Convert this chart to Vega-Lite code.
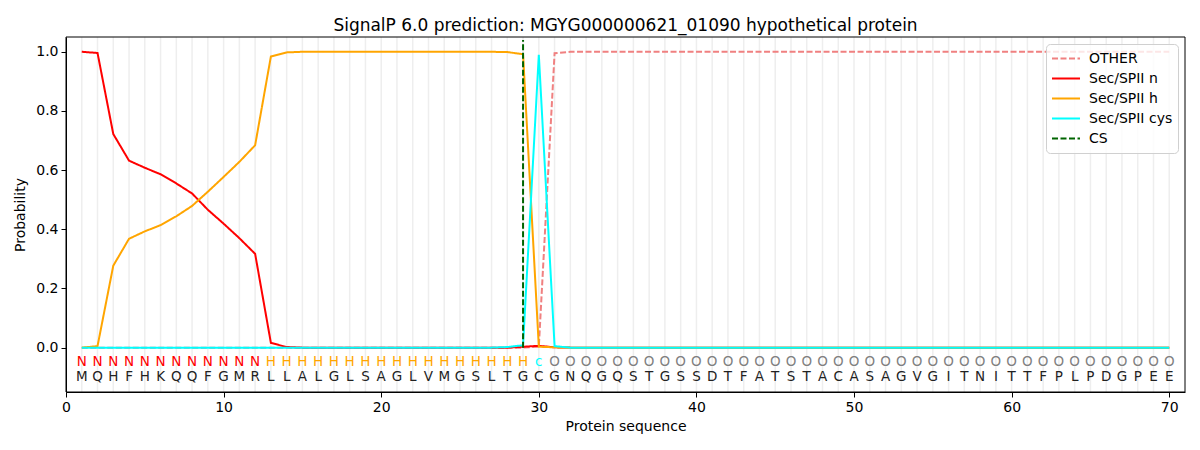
{
  "$schema": "https://vega.github.io/schema/vega-lite/v6.json",
  "autosize": "none",
  "width": 1119,
  "height": 355,
  "padding": {"left": 66, "top": 37, "right": 15, "bottom": 58},
  "background": "white",
  "title": {
    "text": "SignalP 6.0 prediction: MGYG000000621_01090 hypothetical protein",
    "font": "DejaVu Sans",
    "fontSize": 17,
    "fontWeight": "normal",
    "color": "black",
    "offset": 1
  },
  "datasets": {
    "residues": [
      {"pos": 1, "aa": "M", "lab": "N", "OTHER": 0, "Sec/SPII n": 1.0, "Sec/SPII h": 0, "Sec/SPII cys": 0},
      {"pos": 2, "aa": "Q", "lab": "N", "OTHER": 0, "Sec/SPII n": 0.996, "Sec/SPII h": 0.005, "Sec/SPII cys": 0},
      {"pos": 3, "aa": "H", "lab": "N", "OTHER": 0, "Sec/SPII n": 0.722, "Sec/SPII h": 0.277, "Sec/SPII cys": 0},
      {"pos": 4, "aa": "F", "lab": "N", "OTHER": 0, "Sec/SPII n": 0.632, "Sec/SPII h": 0.368, "Sec/SPII cys": 0},
      {"pos": 5, "aa": "H", "lab": "N", "OTHER": 0, "Sec/SPII n": 0.608, "Sec/SPII h": 0.393, "Sec/SPII cys": 0},
      {"pos": 6, "aa": "K", "lab": "N", "OTHER": 0, "Sec/SPII n": 0.586, "Sec/SPII h": 0.414, "Sec/SPII cys": 0},
      {"pos": 7, "aa": "Q", "lab": "N", "OTHER": 0, "Sec/SPII n": 0.555, "Sec/SPII h": 0.444, "Sec/SPII cys": 0},
      {"pos": 8, "aa": "Q", "lab": "N", "OTHER": 0, "Sec/SPII n": 0.521, "Sec/SPII h": 0.479, "Sec/SPII cys": 0},
      {"pos": 9, "aa": "F", "lab": "N", "OTHER": 0, "Sec/SPII n": 0.466, "Sec/SPII h": 0.527, "Sec/SPII cys": 0},
      {"pos": 10, "aa": "G", "lab": "N", "OTHER": 0, "Sec/SPII n": 0.419, "Sec/SPII h": 0.577, "Sec/SPII cys": 0},
      {"pos": 11, "aa": "M", "lab": "N", "OTHER": 0, "Sec/SPII n": 0.37, "Sec/SPII h": 0.628, "Sec/SPII cys": 0},
      {"pos": 12, "aa": "R", "lab": "N", "OTHER": 0, "Sec/SPII n": 0.317, "Sec/SPII h": 0.684, "Sec/SPII cys": 0},
      {"pos": 13, "aa": "L", "lab": "H", "OTHER": 0, "Sec/SPII n": 0.016, "Sec/SPII h": 0.984, "Sec/SPII cys": 0},
      {"pos": 14, "aa": "L", "lab": "H", "OTHER": 0, "Sec/SPII n": 0.002, "Sec/SPII h": 0.998, "Sec/SPII cys": 0},
      {"pos": 15, "aa": "A", "lab": "H", "OTHER": 0, "Sec/SPII n": 0, "Sec/SPII h": 1.0, "Sec/SPII cys": 0},
      {"pos": 16, "aa": "L", "lab": "H", "OTHER": 0, "Sec/SPII n": 0, "Sec/SPII h": 1.0, "Sec/SPII cys": 0},
      {"pos": 17, "aa": "G", "lab": "H", "OTHER": 0, "Sec/SPII n": 0, "Sec/SPII h": 1.0, "Sec/SPII cys": 0},
      {"pos": 18, "aa": "L", "lab": "H", "OTHER": 0, "Sec/SPII n": 0, "Sec/SPII h": 1.0, "Sec/SPII cys": 0},
      {"pos": 19, "aa": "S", "lab": "H", "OTHER": 0, "Sec/SPII n": 0, "Sec/SPII h": 1.0, "Sec/SPII cys": 0},
      {"pos": 20, "aa": "A", "lab": "H", "OTHER": 0, "Sec/SPII n": 0, "Sec/SPII h": 1.0, "Sec/SPII cys": 0},
      {"pos": 21, "aa": "G", "lab": "H", "OTHER": 0, "Sec/SPII n": 0, "Sec/SPII h": 1.0, "Sec/SPII cys": 0},
      {"pos": 22, "aa": "L", "lab": "H", "OTHER": 0, "Sec/SPII n": 0, "Sec/SPII h": 1.0, "Sec/SPII cys": 0},
      {"pos": 23, "aa": "V", "lab": "H", "OTHER": 0, "Sec/SPII n": 0, "Sec/SPII h": 1.0, "Sec/SPII cys": 0},
      {"pos": 24, "aa": "M", "lab": "H", "OTHER": 0, "Sec/SPII n": 0, "Sec/SPII h": 1.0, "Sec/SPII cys": 0},
      {"pos": 25, "aa": "G", "lab": "H", "OTHER": 0, "Sec/SPII n": 0, "Sec/SPII h": 1.0, "Sec/SPII cys": 0},
      {"pos": 26, "aa": "S", "lab": "H", "OTHER": 0, "Sec/SPII n": 0, "Sec/SPII h": 1.0, "Sec/SPII cys": 0},
      {"pos": 27, "aa": "L", "lab": "H", "OTHER": 0, "Sec/SPII n": 0, "Sec/SPII h": 1.0, "Sec/SPII cys": 0},
      {"pos": 28, "aa": "T", "lab": "H", "OTHER": 0, "Sec/SPII n": 0, "Sec/SPII h": 0.999, "Sec/SPII cys": 0.002},
      {"pos": 29, "aa": "G", "lab": "H", "OTHER": 0, "Sec/SPII n": 0.003, "Sec/SPII h": 0.992, "Sec/SPII cys": 0.008},
      {"pos": 30, "aa": "C", "lab": "c", "OTHER": 0.003, "Sec/SPII n": 0.006, "Sec/SPII h": 0.003, "Sec/SPII cys": 0.99},
      {"pos": 31, "aa": "G", "lab": "O", "OTHER": 0.995, "Sec/SPII n": 0.001, "Sec/SPII h": 0.001, "Sec/SPII cys": 0.005},
      {"pos": 32, "aa": "N", "lab": "O", "OTHER": 1.0, "Sec/SPII n": 0, "Sec/SPII h": 0, "Sec/SPII cys": 0},
      {"pos": 33, "aa": "Q", "lab": "O", "OTHER": 1.0, "Sec/SPII n": 0, "Sec/SPII h": 0, "Sec/SPII cys": 0},
      {"pos": 34, "aa": "G", "lab": "O", "OTHER": 1.0, "Sec/SPII n": 0, "Sec/SPII h": 0, "Sec/SPII cys": 0},
      {"pos": 35, "aa": "Q", "lab": "O", "OTHER": 1.0, "Sec/SPII n": 0, "Sec/SPII h": 0, "Sec/SPII cys": 0},
      {"pos": 36, "aa": "S", "lab": "O", "OTHER": 1.0, "Sec/SPII n": 0, "Sec/SPII h": 0, "Sec/SPII cys": 0},
      {"pos": 37, "aa": "T", "lab": "O", "OTHER": 1.0, "Sec/SPII n": 0, "Sec/SPII h": 0, "Sec/SPII cys": 0},
      {"pos": 38, "aa": "G", "lab": "O", "OTHER": 1.0, "Sec/SPII n": 0, "Sec/SPII h": 0, "Sec/SPII cys": 0},
      {"pos": 39, "aa": "S", "lab": "O", "OTHER": 1.0, "Sec/SPII n": 0, "Sec/SPII h": 0, "Sec/SPII cys": 0},
      {"pos": 40, "aa": "S", "lab": "O", "OTHER": 1.0, "Sec/SPII n": 0, "Sec/SPII h": 0, "Sec/SPII cys": 0},
      {"pos": 41, "aa": "D", "lab": "O", "OTHER": 1.0, "Sec/SPII n": 0, "Sec/SPII h": 0, "Sec/SPII cys": 0},
      {"pos": 42, "aa": "T", "lab": "O", "OTHER": 1.0, "Sec/SPII n": 0, "Sec/SPII h": 0, "Sec/SPII cys": 0},
      {"pos": 43, "aa": "F", "lab": "O", "OTHER": 1.0, "Sec/SPII n": 0, "Sec/SPII h": 0, "Sec/SPII cys": 0},
      {"pos": 44, "aa": "A", "lab": "O", "OTHER": 1.0, "Sec/SPII n": 0, "Sec/SPII h": 0, "Sec/SPII cys": 0},
      {"pos": 45, "aa": "T", "lab": "O", "OTHER": 1.0, "Sec/SPII n": 0, "Sec/SPII h": 0, "Sec/SPII cys": 0},
      {"pos": 46, "aa": "S", "lab": "O", "OTHER": 1.0, "Sec/SPII n": 0, "Sec/SPII h": 0, "Sec/SPII cys": 0},
      {"pos": 47, "aa": "T", "lab": "O", "OTHER": 1.0, "Sec/SPII n": 0, "Sec/SPII h": 0, "Sec/SPII cys": 0},
      {"pos": 48, "aa": "A", "lab": "O", "OTHER": 1.0, "Sec/SPII n": 0, "Sec/SPII h": 0, "Sec/SPII cys": 0},
      {"pos": 49, "aa": "C", "lab": "O", "OTHER": 1.0, "Sec/SPII n": 0, "Sec/SPII h": 0, "Sec/SPII cys": 0},
      {"pos": 50, "aa": "A", "lab": "O", "OTHER": 1.0, "Sec/SPII n": 0, "Sec/SPII h": 0, "Sec/SPII cys": 0},
      {"pos": 51, "aa": "S", "lab": "O", "OTHER": 1.0, "Sec/SPII n": 0, "Sec/SPII h": 0, "Sec/SPII cys": 0},
      {"pos": 52, "aa": "A", "lab": "O", "OTHER": 1.0, "Sec/SPII n": 0, "Sec/SPII h": 0, "Sec/SPII cys": 0},
      {"pos": 53, "aa": "G", "lab": "O", "OTHER": 1.0, "Sec/SPII n": 0, "Sec/SPII h": 0, "Sec/SPII cys": 0},
      {"pos": 54, "aa": "V", "lab": "O", "OTHER": 1.0, "Sec/SPII n": 0, "Sec/SPII h": 0, "Sec/SPII cys": 0},
      {"pos": 55, "aa": "G", "lab": "O", "OTHER": 1.0, "Sec/SPII n": 0, "Sec/SPII h": 0, "Sec/SPII cys": 0},
      {"pos": 56, "aa": "I", "lab": "O", "OTHER": 1.0, "Sec/SPII n": 0, "Sec/SPII h": 0, "Sec/SPII cys": 0},
      {"pos": 57, "aa": "T", "lab": "O", "OTHER": 1.0, "Sec/SPII n": 0, "Sec/SPII h": 0, "Sec/SPII cys": 0},
      {"pos": 58, "aa": "N", "lab": "O", "OTHER": 1.0, "Sec/SPII n": 0, "Sec/SPII h": 0, "Sec/SPII cys": 0},
      {"pos": 59, "aa": "I", "lab": "O", "OTHER": 1.0, "Sec/SPII n": 0, "Sec/SPII h": 0, "Sec/SPII cys": 0},
      {"pos": 60, "aa": "T", "lab": "O", "OTHER": 1.0, "Sec/SPII n": 0, "Sec/SPII h": 0, "Sec/SPII cys": 0},
      {"pos": 61, "aa": "T", "lab": "O", "OTHER": 1.0, "Sec/SPII n": 0, "Sec/SPII h": 0, "Sec/SPII cys": 0},
      {"pos": 62, "aa": "F", "lab": "O", "OTHER": 1.0, "Sec/SPII n": 0, "Sec/SPII h": 0, "Sec/SPII cys": 0},
      {"pos": 63, "aa": "P", "lab": "O", "OTHER": 1.0, "Sec/SPII n": 0, "Sec/SPII h": 0, "Sec/SPII cys": 0},
      {"pos": 64, "aa": "L", "lab": "O", "OTHER": 1.0, "Sec/SPII n": 0, "Sec/SPII h": 0, "Sec/SPII cys": 0},
      {"pos": 65, "aa": "P", "lab": "O", "OTHER": 1.0, "Sec/SPII n": 0, "Sec/SPII h": 0, "Sec/SPII cys": 0},
      {"pos": 66, "aa": "D", "lab": "O", "OTHER": 1.0, "Sec/SPII n": 0, "Sec/SPII h": 0, "Sec/SPII cys": 0},
      {"pos": 67, "aa": "G", "lab": "O", "OTHER": 1.0, "Sec/SPII n": 0, "Sec/SPII h": 0, "Sec/SPII cys": 0},
      {"pos": 68, "aa": "P", "lab": "O", "OTHER": 1.0, "Sec/SPII n": 0, "Sec/SPII h": 0, "Sec/SPII cys": 0},
      {"pos": 69, "aa": "E", "lab": "O", "OTHER": 1.0, "Sec/SPII n": 0, "Sec/SPII h": 0, "Sec/SPII cys": 0},
      {"pos": 70, "aa": "E", "lab": "O", "OTHER": 1.0, "Sec/SPII n": 0, "Sec/SPII h": 0, "Sec/SPII cys": 0}
    ],
    "cleavage": [
      {"pos": 29, "series": "CS", "lo": 0, "hi": 1.04}
    ]
  },
  "data": {"name": "residues"},
  "layer": [
    {
      "mark": {"type": "rule", "color": "#eeeeee", "strokeWidth": 1.5},
      "encoding": {
        "x": {"field": "pos", "type": "quantitative"}
      }
    },
    {
      "transform": [
        {"fold": ["OTHER", "Sec/SPII n", "Sec/SPII h", "Sec/SPII cys"], "as": ["series", "prob"]}
      ],
      "mark": {"type": "line", "strokeWidth": 2},
      "encoding": {
        "x": {"field": "pos", "type": "quantitative"},
        "y": {"field": "prob", "type": "quantitative"},
        "color": {"field": "series", "type": "nominal", "title": null},
        "strokeDash": {"field": "series", "type": "nominal", "title": null}
      }
    },
    {
      "data": {"name": "cleavage"},
      "mark": {"type": "rule", "strokeWidth": 2},
      "encoding": {
        "x": {"field": "pos", "type": "quantitative"},
        "y": {"field": "lo", "type": "quantitative"},
        "y2": {"field": "hi"},
        "color": {"field": "series", "type": "nominal", "title": null},
        "strokeDash": {"field": "series", "type": "nominal", "title": null}
      }
    },
    {
      "mark": {"type": "text", "font": "DejaVu Sans", "fontSize": 13.5, "baseline": "middle"},
      "encoding": {
        "x": {"field": "pos", "type": "quantitative"},
        "y": {"datum": -0.05, "type": "quantitative"},
        "text": {"field": "lab"},
        "color": {
          "condition": [
            {"test": "datum.lab === 'N'", "value": "red"},
            {"test": "datum.lab === 'H'", "value": "orange"},
            {"test": "datum.lab === 'c'", "value": "cyan"}
          ],
          "value": "grey"
        }
      }
    },
    {
      "mark": {"type": "text", "font": "DejaVu Sans", "fontSize": 13.5, "baseline": "middle", "color": "#222222"},
      "encoding": {
        "x": {"field": "pos", "type": "quantitative"},
        "y": {"datum": -0.1, "type": "quantitative"},
        "text": {"field": "aa"}
      }
    },
    {
      "data": {"values": [{}]},
      "mark": {"type": "rect", "fill": null, "stroke": "black", "strokeWidth": 1},
      "encoding": {
        "x": {"datum": 0, "type": "quantitative"},
        "x2": {"datum": 71},
        "y": {"datum": -0.15, "type": "quantitative"},
        "y2": {"datum": 1.05}
      }
    }
  ],
  "encoding": {
    "x": {
      "type": "quantitative",
      "scale": {"domain": [0, 71], "nice": false, "zero": false},
      "axis": {"values": [0, 10, 20, 30, 40, 50, 60, 70], "title": "Protein sequence", "format": "d"}
    },
    "y": {
      "type": "quantitative",
      "scale": {"domain": [-0.15, 1.05], "nice": false, "zero": false},
      "axis": {"values": [0, 0.2, 0.4, 0.6, 0.8, 1.0], "title": "Probability", "format": ".1f"}
    },
    "color": {
      "scale": {
        "domain": ["OTHER", "Sec/SPII n", "Sec/SPII h", "Sec/SPII cys", "CS"],
        "range": ["#f08080", "red", "orange", "cyan", "darkgreen"]
      }
    },
    "strokeDash": {
      "scale": {
        "domain": ["OTHER", "Sec/SPII n", "Sec/SPII h", "Sec/SPII cys", "CS"],
        "range": [[6, 2.5], [1, 0], [1, 0], [1, 0], [6, 2.5]]
      }
    }
  },
  "config": {
    "view": {"stroke": null},
    "axis": {
      "grid": false,
      "domainColor": "black",
      "tickColor": "black",
      "tickSize": 5,
      "labelFont": "DejaVu Sans",
      "labelFontSize": 14,
      "labelColor": "black",
      "labelPadding": 3,
      "titleFont": "DejaVu Sans",
      "titleFontSize": 14,
      "titleFontWeight": "normal",
      "titleColor": "black"
    },
    "axisX": {"titlePadding": 5, "labelFlush": false},
    "axisY": {"titlePadding": 8},
    "legend": {
      "orient": "top-right",
      "offset": 7,
      "padding": 5,
      "strokeColor": "#d0d0d0",
      "fillColor": "rgba(255,255,255,0.8)",
      "cornerRadius": 4,
      "symbolType": "stroke",
      "symbolSize": 784,
      "symbolStrokeWidth": 2,
      "clipHeight": 19,
      "rowPadding": 1,
      "labelFont": "DejaVu Sans",
      "labelFontSize": 14,
      "labelColor": "black",
      "labelOffset": 8
    }
  }
}
